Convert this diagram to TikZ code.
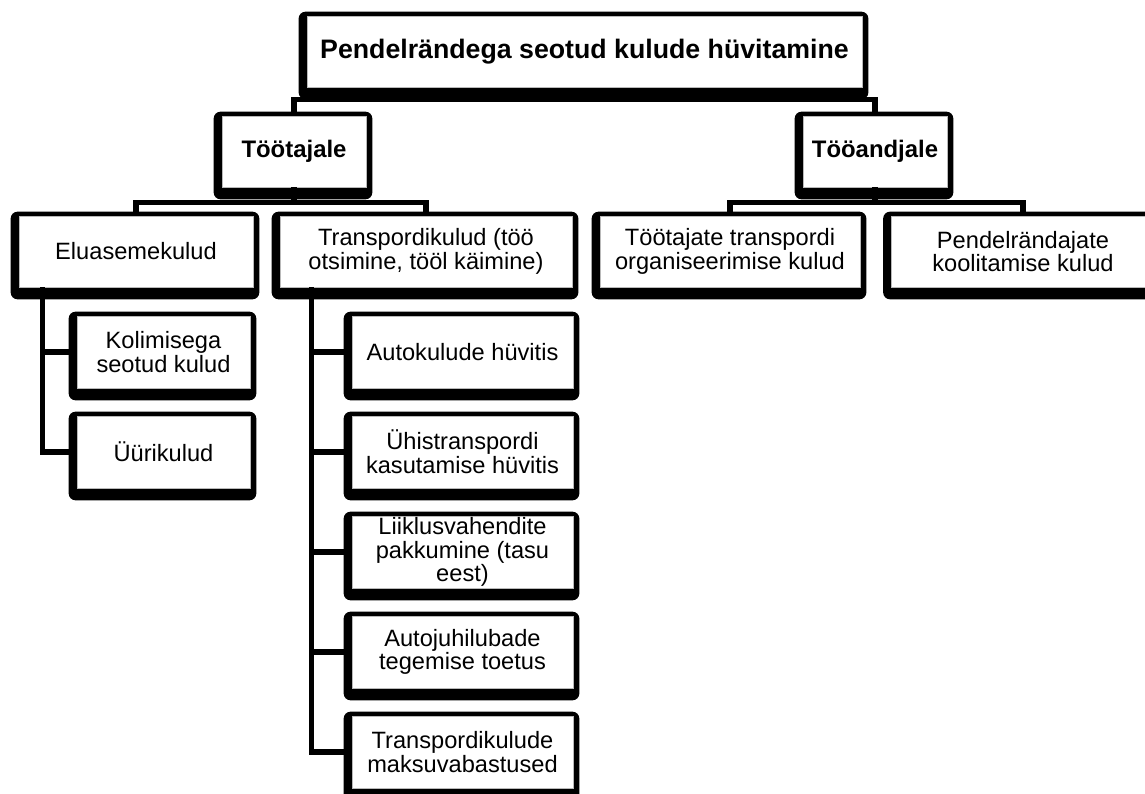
\documentclass[tikz,border=0pt]{standalone}
\usepackage{fontspec}
\setmainfont{Liberation Sans}
\usetikzlibrary{backgrounds}
\begin{document}
\begin{tikzpicture}[x=0.025cm,y=-0.025cm,
  kast/.style={draw=gray!55,line width=0.5pt,fill=white,align=center,inner sep=0pt,
    minimum height=1.775cm,font=\fontsize{16.8}{16.8}\selectfont},
  pea/.style={kast,font=\fontsize{17}{17}\selectfont\bfseries},
  haru/.style={kast,minimum height=1.8cm},
  liin/.style={line width=0.14cm}]
  \useasboundingbox (0,0) rectangle (1145,794);
  \node[pea,minimum width=13.875cm,font=\fontsize{19}{19}\selectfont\bfseries] (juur) at (584.5,51.5) {Pendelrändega seotud kulude hüvitamine};
  \node[pea,minimum width=3.6cm] (tootaja) at (294,151.5) {Töötajale};
  \node[pea,minimum width=3.6cm] (andja) at (875,151.5) {Tööandjale};
  \node[kast,minimum width=5.85cm] (elu) at (136,251.5) {Eluasemekulud};
  \node[kast,minimum width=7.3cm] (transp) at (426,251.5) {Transpordikulud (töö\\otsimine, tööl käimine)};
  \node[kast,minimum width=6.5cm] (korraldus) at (730,251.5) {Töötajate transpordi\\organiseerimise kulud};
  \node[kast,minimum width=6.575cm] (koolitus) at (1023,251.5) {Pendelrändajate\\koolitamise kulud};
  \node[haru,minimum width=4.325cm] (kol1) at (163.5,352) {Kolimisega\\seotud kulud};
  \node[haru,minimum width=4.325cm] (kol2) at (163.5,452) {Üürikulud};
  \draw[liin] (tootaja.north) -- ++(0,-16) -| (andja.north);
  \draw[liin] (tootaja.south) -- ++(0,16);
  \draw[liin] (elu.north) -- ++(0,-13) -| (transp.north);
  \draw[liin] (andja.south) -- ++(0,16);
  \draw[liin] (korraldus.north) -- ++(0,-13) -| (koolitus.north);
  \draw[liin] ([xshift=0.6cm]elu.south west) |- (kol1.west);
  \draw[liin] ([xshift=0.6cm]elu.south west) |- (kol2.west);
  \foreach \t [count=\i] in {{Autokulude hüvitis},{Ühistranspordi\\kasutamise hüvitis},
      {Liiklusvahendite\\pakkumine (tasu\\eest)},{Autojuhilubade\\tegemise toetus},
      {Transpordikulude\\maksuvabastused}}{
    \node[haru,minimum width=5.525cm] (tr\i) at (462.5,252+100*\i) {\t};
    \draw[liin] ([xshift=0.8cm]transp.south west) |- (tr\i.west);
  }
  \begin{scope}[on background layer]
    \fill[white] (0,0) rectangle (1145,794);
    \foreach \n in {juur,tootaja,andja,elu,transp,korraldus,koolitus,kol1,kol2,tr1,tr2,tr3,tr4,tr5}
      \fill[rounded corners=5pt] ([shift={(-8,-4)}]\n.north west) rectangle ([shift={(6,12)}]\n.south east);
  \end{scope}
\end{tikzpicture}
\end{document}
